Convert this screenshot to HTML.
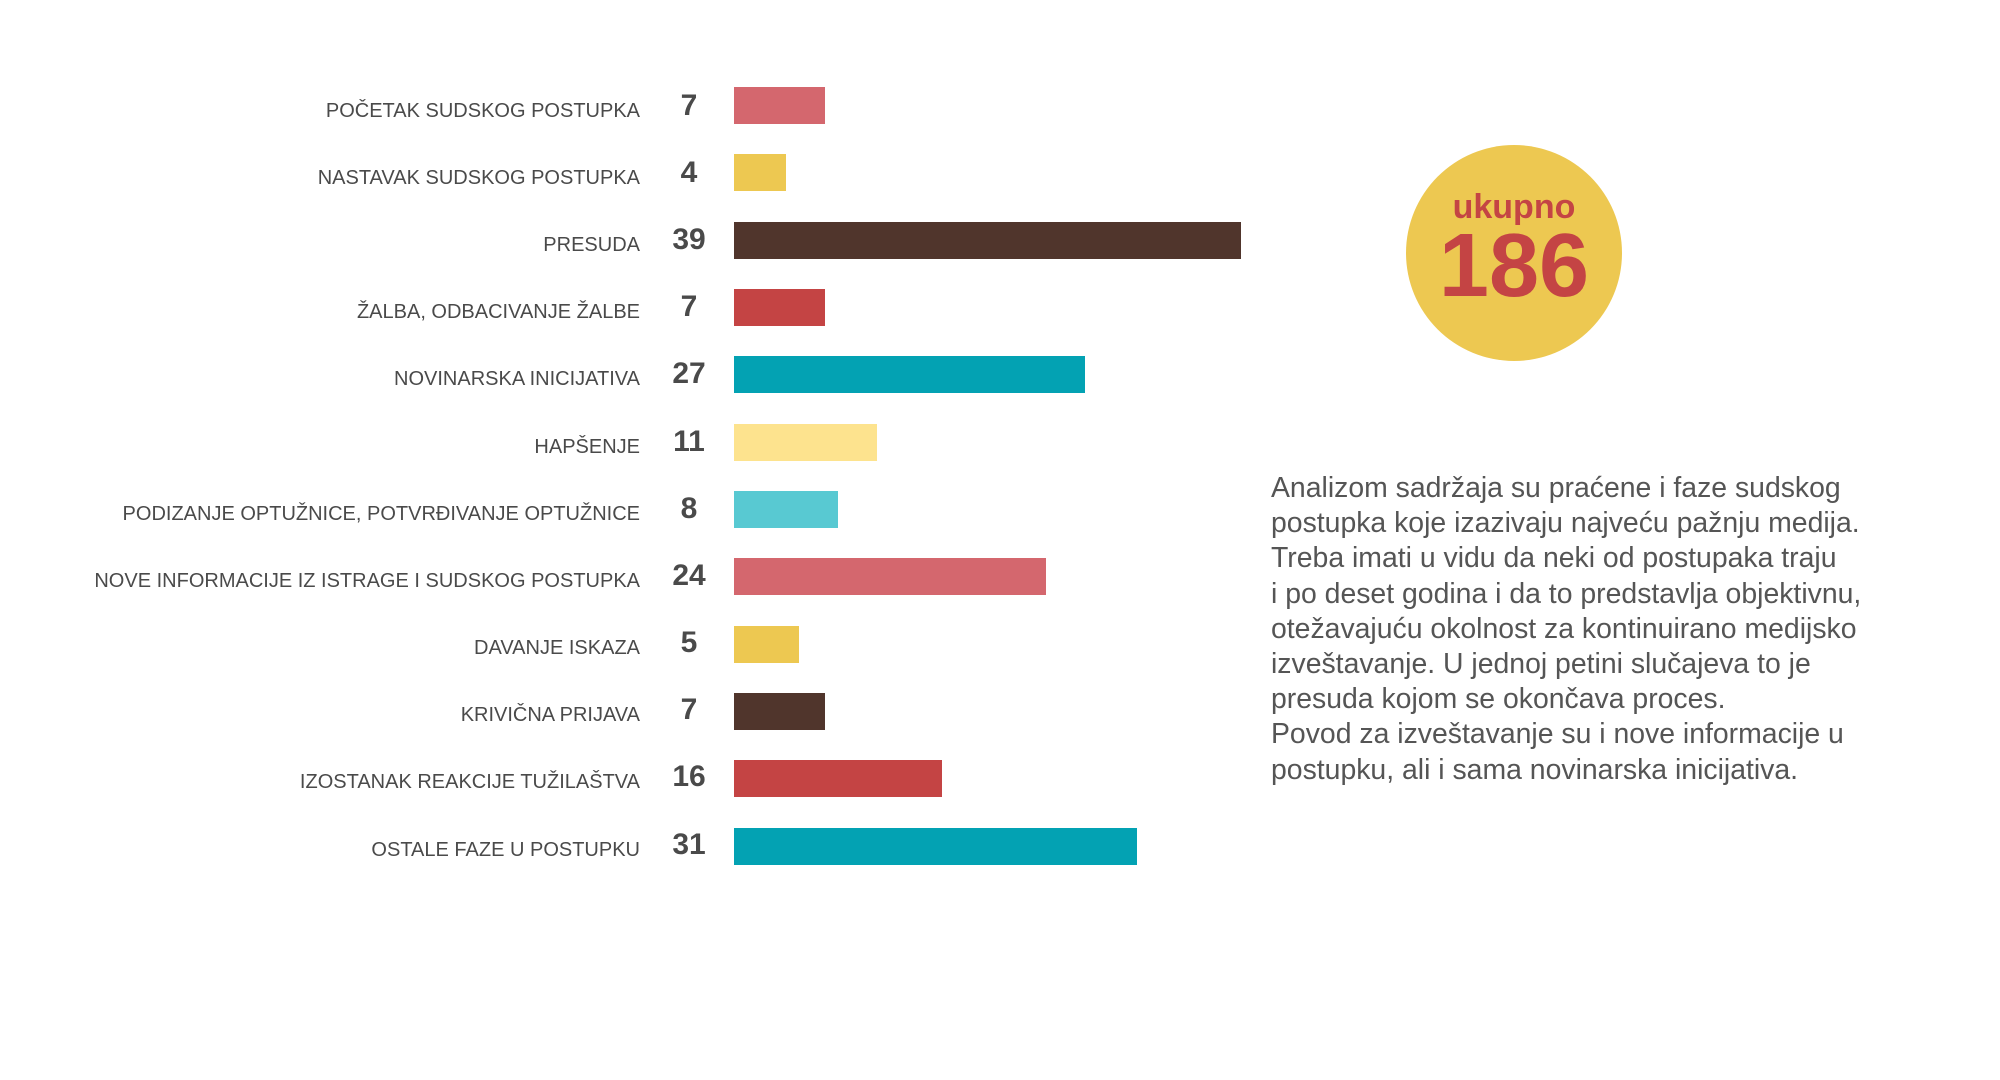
<!DOCTYPE html>
<html><head><meta charset="utf-8"><style>
html,body{margin:0;padding:0;background:#fff;width:2000px;height:1080px;overflow:hidden}
body{position:relative;font-family:"Liberation Sans",sans-serif}
.l{position:absolute;right:1360px;font-size:20px;color:#4a4a4a;white-space:nowrap;line-height:24px}
.n{position:absolute;left:649px;width:80px;text-align:center;font-size:30px;font-weight:bold;color:#4a4a4a;line-height:34px}
.b{position:absolute;left:734px;height:37px}
.c{position:absolute;left:1406px;top:145px;width:216px;height:216px;border-radius:50%;background:#edc851;text-align:center;color:#c44444;font-weight:bold}
.p{position:absolute;left:1271px;top:471px;font-size:28.4px;line-height:35.2px;color:#555;white-space:nowrap}
</style></head><body>
<div class="l" style="top:99px">POČETAK SUDSKOG POSTUPKA</div><div class="n" style="top:89px">7</div><div class="b" style="top:87px;width:91px;background:#d4676e"></div>
<div class="l" style="top:166px">NASTAVAK SUDSKOG POSTUPKA</div><div class="n" style="top:156px">4</div><div class="b" style="top:154px;width:52px;background:#edc851"></div>
<div class="l" style="top:233px">PRESUDA</div><div class="n" style="top:223px">39</div><div class="b" style="top:222px;width:507px;background:#50352c"></div>
<div class="l" style="top:300px">ŽALBA, ODBACIVANJE ŽALBE</div><div class="n" style="top:290px">7</div><div class="b" style="top:289px;width:91px;background:#c44444"></div>
<div class="l" style="top:367px">NOVINARSKA INICIJATIVA</div><div class="n" style="top:357px">27</div><div class="b" style="top:356px;width:351px;background:#03a2b3"></div>
<div class="l" style="top:435px">HAPŠENJE</div><div class="n" style="top:425px">11</div><div class="b" style="top:424px;width:143px;background:#fde38e"></div>
<div class="l" style="top:502px">PODIZANJE OPTUŽNICE, POTVRĐIVANJE OPTUŽNICE</div><div class="n" style="top:492px">8</div><div class="b" style="top:491px;width:104px;background:#58c9d2"></div>
<div class="l" style="top:569px">NOVE INFORMACIJE IZ ISTRAGE I SUDSKOG POSTUPKA</div><div class="n" style="top:559px">24</div><div class="b" style="top:558px;width:312px;background:#d4676e"></div>
<div class="l" style="top:636px">DAVANJE ISKAZA</div><div class="n" style="top:626px">5</div><div class="b" style="top:626px;width:65px;background:#edc851"></div>
<div class="l" style="top:703px">KRIVIČNA PRIJAVA</div><div class="n" style="top:693px">7</div><div class="b" style="top:693px;width:91px;background:#50352c"></div>
<div class="l" style="top:770px">IZOSTANAK REAKCIJE TUŽILAŠTVA</div><div class="n" style="top:760px">16</div><div class="b" style="top:760px;width:208px;background:#c44444"></div>
<div class="l" style="top:838px">OSTALE FAZE U POSTUPKU</div><div class="n" style="top:828px">31</div><div class="b" style="top:828px;width:403px;background:#03a2b3"></div>
<div class="c"><div style="font-size:34px;margin-top:44px;line-height:36px">ukupno</div><div style="font-size:90px;line-height:82px">186</div></div>
<div class="p">Analizom sadržaja su praćene i faze sudskog<br>postupka koje izazivaju najveću pažnju medija.<br>Treba imati u vidu da neki od postupaka traju<br>i po deset godina i da to predstavlja objektivnu,<br>otežavajuću okolnost za kontinuirano medijsko<br>izveštavanje. U jednoj petini slučajeva to je<br>presuda kojom se okončava proces.<br>Povod za izveštavanje su i nove informacije u<br>postupku, ali i sama novinarska inicijativa.</div>
</body></html>
